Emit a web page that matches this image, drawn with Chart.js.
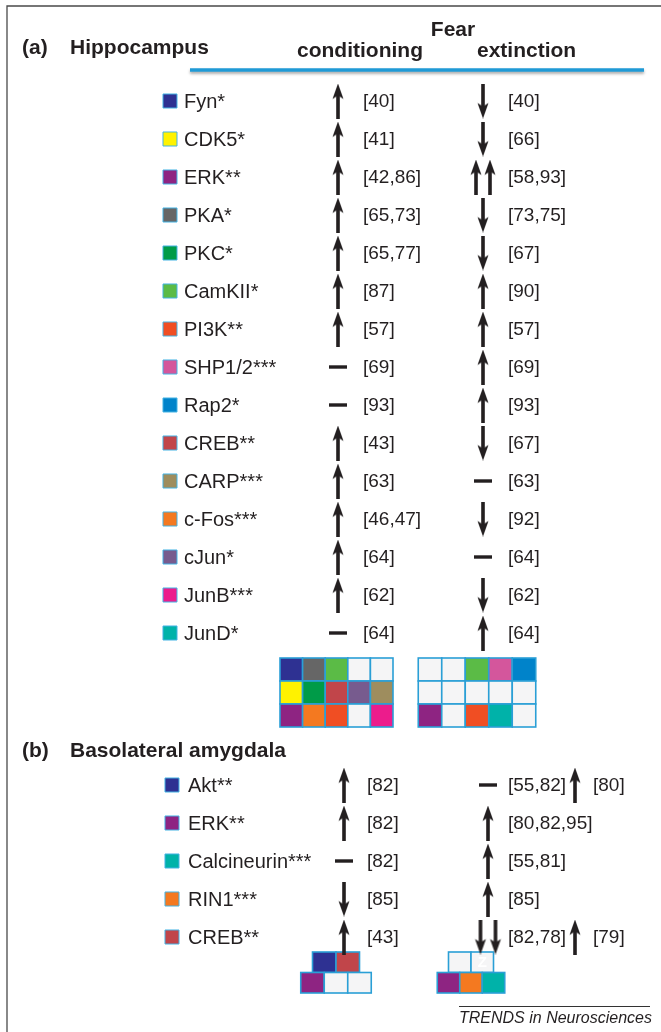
<!DOCTYPE html>
<html><head><meta charset="utf-8">
<script src="https://cdn.jsdelivr.net/npm/chart.js@4.4.1/dist/chart.umd.min.js"></script>
<style>html,body{margin:0;padding:0;background:#fff;}canvas{display:block;}</style>
</head><body>
<canvas id="c" width="661" height="1032" style="width:661px;height:1032px"></canvas>
<script>
// ---------------- DATA ----------------
// effect codes: 1 = increase, -1 = decrease, 0 = no change, 2 = double increase, -2 = double decrease
const hippoGenes = ["Fyn*","CDK5*","ERK**","PKA*","PKC*","CamKII*","PI3K**","SHP1/2***","Rap2*","CREB**","CARP***","c-Fos***","cJun*","JunB***","JunD*"];
const hippoColors = ["#2e3192","#fff200","#8e2482","#666666","#009b48","#5bbb46","#f04e23","#d4569c","#0083ca","#c1454a","#9e8d5e","#f47920","#775b8e","#ec1c8c","#00b2a9"];
const hippoCond = [1,1,1,1,1,1,1,0,0,1,1,1,1,1,0];
const hippoCondRefs = ["[40]","[41]","[42,86]","[65,73]","[65,77]","[87]","[57]","[69]","[93]","[43]","[63]","[46,47]","[64]","[62]","[64]"];
const hippoExt = [-1,-1,2,-1,-1,1,1,1,1,-1,0,-1,0,-1,1];
const hippoExtRefs = ["[40]","[66]","[58,93]","[73,75]","[67]","[90]","[57]","[69]","[93]","[67]","[63]","[92]","[64]","[62]","[64]"];

const blaGenes = ["Akt**","ERK**","Calcineurin***","RIN1***","CREB**"];
const blaColors = ["#2e3192","#8e2482","#00b2a9","#f47920","#c1454a"];
const blaCond = [1,1,0,-1,1];
const blaCondRefs = ["[82]","[82]","[82]","[85]","[43]"];
const blaExt = [0,1,1,1,-2];
const blaExtRefs = ["[55,82]","[80,82,95]","[55,81]","[85]","[82,78]"];
const blaExt2 = [1,null,null,null,1];
const blaExt2Refs = ["[80]",null,null,null,"[79]"];

// summary grids (gene names; "" = unchanged / white)
const hippoCondGrid = [["Fyn*","PKA*","CamKII*","",""],["CDK5*","PKC*","CREB**","cJun*","CARP***"],["ERK**","c-Fos***","PI3K**","","JunB***"]];
const hippoExtGrid  = [["","","CamKII*","SHP1/2***","Rap2*"],["","","","",""],["ERK**","","PI3K**","JunD*",""]];
const blaCondGrid = [["Akt**","CREB**"],["ERK**","",""]];
const blaExtGrid  = [["",""],["ERK**","RIN1***","Calcineurin***"]];

// ---------------- LAYOUT ----------------
const INK = "#231f20";
const ROW_PX = 38, FIRST_ROW_PX = 101, H = 1032, W = 661;
const BLA_ROW0 = 18;
const A = {sq:170, label:184, cond:338, condRef:363, ext:483, extRef:508};
const B = {sq:172, label:188, cond:344, condRef:367, ext:488, extRef:508, ext2:575, ext2Ref:593};
const FONT = "'Liberation Sans', Arial, Helvetica, sans-serif";

function makeArrow(dir){
  const w=14,h=35;const c=document.createElement('canvas');c.width=w;c.height=h;
  const g=c.getContext('2d');g.fillStyle=INK;
  if(dir<0){g.translate(0,h);g.scale(1,-1);}
  const cx=w/2;
  g.fillRect(cx-1.8,10,3.6,h-10);
  g.beginPath();g.moveTo(cx,0);g.lineTo(cx+5.5,15.5);g.lineTo(cx,12);g.lineTo(cx-5.5,15.5);g.closePath();g.fill();
  return c;
}
function makeDash(){const c=document.createElement('canvas');c.width=18;c.height=4;const g=c.getContext('2d');g.fillStyle=INK;g.fillRect(0,0.3,18,3.4);return c;}
const UP=makeArrow(1), DOWN=makeArrow(-1), DASH=makeDash();

const upPts=[],downPts=[],dashPts=[];
function addMark(eff,x,y,off){
  if(eff===1)upPts.push({x,y});
  else if(eff===-1)downPts.push({x,y});
  else if(eff===0)dashPts.push({x,y});
  else if(eff===2){upPts.push({x:x-off,y});upPts.push({x:x+off,y});}
  else if(eff===-2){downPts.push({x:x-off,y});downPts.push({x:x+off,y});}
}
const sqPts=[],sqCols=[];
hippoGenes.forEach((g,i)=>{
  sqPts.push({x:A.sq,y:i});sqCols.push(hippoColors[i]);
  addMark(hippoCond[i],A.cond,i,7);
  addMark(hippoExt[i],A.ext,i,7);
});
blaGenes.forEach((g,i)=>{
  const r=BLA_ROW0+i;
  sqPts.push({x:B.sq,y:r});sqCols.push(blaColors[i]);
  addMark(blaCond[i],B.cond,r,7.5);
  addMark(blaExt[i],B.ext,r,7.5);
  if(blaExt2[i]!==null)addMark(blaExt2[i],B.ext2,r,7.5);
});

function colorOf(name,genes,colors){const k=genes.indexOf(name);return k<0?"#f5f5f6":colors[k];}

const figurePlugin={
  id:'figure',
  beforeDatasetsDraw(chart){
    const ctx=chart.ctx,xs=chart.scales.x,ys=chart.scales.y;
    ctx.save();
    // frame
    ctx.strokeStyle="#4a4a4a";ctx.lineWidth=1.3;
    ctx.beginPath();ctx.moveTo(7,H);ctx.lineTo(7,6);ctx.lineTo(W,6);ctx.stroke();
    // blue header rule with shadow
    ctx.save();ctx.shadowColor="rgba(0,0,0,0.35)";ctx.shadowBlur=3;ctx.shadowOffsetY=2;
    ctx.strokeStyle="#1f9ad6";ctx.lineWidth=3.5;ctx.beginPath();
    ctx.moveTo(xs.getPixelForValue(190),70);ctx.lineTo(xs.getPixelForValue(644),70);ctx.stroke();ctx.restore();
    // grids
    function grid(rows,genes,colors,cx,top,cw,chh){
      rows.forEach((row,ri)=>{
        const n=row.length;
        row.forEach((name,ci)=>{
          const x=xs.getPixelForValue(cx+(ci-(n-1)/2)*cw)-cw/2;
          const y=top+ri*chh;
          ctx.fillStyle=colorOf(name,genes,colors);
          ctx.fillRect(x,y,cw,chh);
          ctx.strokeStyle="#2a9fd6";ctx.lineWidth=1.6;ctx.strokeRect(x,y,cw,chh);
        });
      });
    }
    const gA=ys.getPixelForValue(hippoGenes.length-1)+25;
    grid(hippoCondGrid,hippoGenes,hippoColors,336.5,gA,22.6,23);
    grid(hippoExtGrid,hippoGenes,hippoColors,477,gA,23.5,23);
    const gB=ys.getPixelForValue(BLA_ROW0+blaGenes.length-1)+15;
    grid(blaCondGrid,blaGenes,blaColors,336,gB,23.5,20.5);
    grid(blaExtGrid,blaGenes,blaColors,471,gB,22.5,20.5);
    // faint letter in grid
    ctx.fillStyle="#ffffff";ctx.font="bold 15px "+FONT;ctx.textAlign="center";ctx.textBaseline="middle";
    ctx.fillText("Z",xs.getPixelForValue(471+11.25),gB+11);
    // footer rule
    ctx.strokeStyle="#333";ctx.lineWidth=1;ctx.beginPath();ctx.moveTo(459,1006.5);ctx.lineTo(650,1006.5);ctx.stroke();
    ctx.restore();
  },
  afterDatasetsDraw(chart){
    const ctx=chart.ctx,xs=chart.scales.x,ys=chart.scales.y;
    ctx.save();ctx.fillStyle=INK;
    // headers
    ctx.font="bold 21px "+FONT;ctx.textBaseline="alphabetic";
    ctx.textAlign="left";ctx.fillText("(a)",22,54);ctx.fillText("Hippocampus",70,54);
    ctx.textAlign="center";ctx.fillText("Fear",453,36);ctx.fillText("conditioning",360,57);
    ctx.textAlign="left";ctx.fillText("extinction",477,57);
    ctx.fillText("(b)",22,757);ctx.fillText("Basolateral amygdala",70,757);
    // rows
    ctx.textBaseline="middle";
    const lab="20px "+FONT, ref="19px "+FONT;
    hippoGenes.forEach((g,i)=>{
      const y=ys.getPixelForValue(i)+1;
      ctx.font=lab;ctx.fillText(g,xs.getPixelForValue(A.label),y);
      ctx.font=ref;ctx.fillText(hippoCondRefs[i],xs.getPixelForValue(A.condRef),y);
      ctx.fillText(hippoExtRefs[i],xs.getPixelForValue(A.extRef),y);
    });
    blaGenes.forEach((g,i)=>{
      const y=ys.getPixelForValue(BLA_ROW0+i)+1;
      ctx.font=lab;ctx.fillText(g,xs.getPixelForValue(B.label),y);
      ctx.font=ref;ctx.fillText(blaCondRefs[i],xs.getPixelForValue(B.condRef),y);
      ctx.fillText(blaExtRefs[i],xs.getPixelForValue(B.extRef),y);
      if(blaExt2Refs[i])ctx.fillText(blaExt2Refs[i],xs.getPixelForValue(B.ext2Ref),y);
    });
    // footer
    ctx.font="italic 16px "+FONT;ctx.textBaseline="alphabetic";ctx.textAlign="left";
    ctx.fillText("TRENDS in Neurosciences",459,1023);
    ctx.restore();
  }
};

new Chart(document.getElementById('c'),{
  type:'scatter',
  data:{datasets:[
    {data:sqPts,pointStyle:'rect',pointRadius:9.9,pointBackgroundColor:sqCols,pointBorderColor:'#45b3e4',pointBorderWidth:1},
    {data:upPts,pointStyle:UP,pointRadius:5},
    {data:downPts,pointStyle:DOWN,pointRadius:5},
    {data:dashPts,pointStyle:DASH,pointRadius:5}
  ]},
  options:{
    responsive:false,animation:false,events:[],devicePixelRatio:1,
    layout:{padding:0,autoPadding:false},
    plugins:{legend:{display:false},tooltip:{enabled:false}},
    scales:{
      x:{type:'linear',min:0,max:W,display:false},
      y:{type:'linear',reverse:true,min:-FIRST_ROW_PX/ROW_PX,max:(H-FIRST_ROW_PX)/ROW_PX,display:false}
    }
  },
  plugins:[figurePlugin]
});
</script></body></html>
